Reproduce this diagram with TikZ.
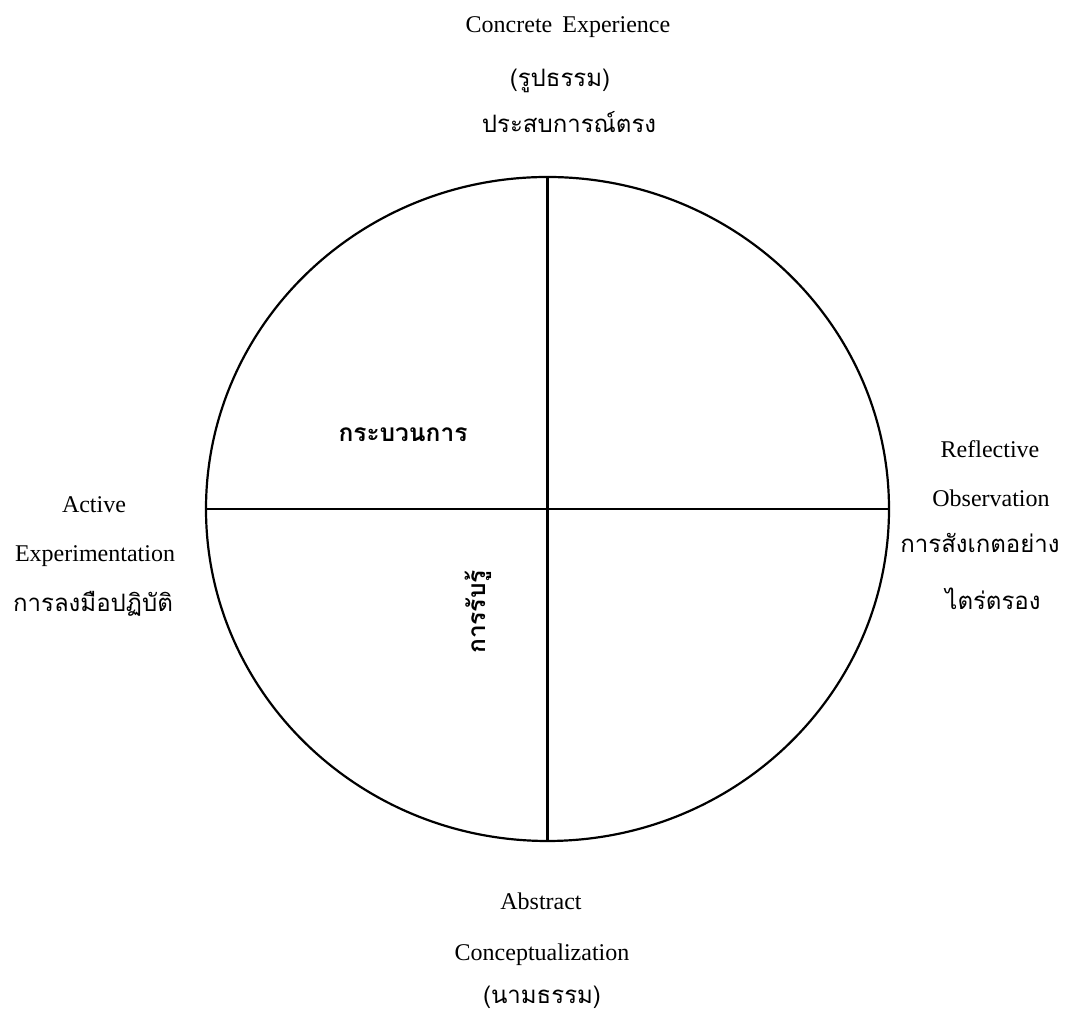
\documentclass[tikz,border=0pt]{standalone}
\usepackage{fontspec}
\setmainfont{Liberation Serif}
\newfontfamily\thaifont[Script=Thai]{Loma}
\usepackage{tikz}
\usetikzlibrary{shapes.geometric}

\begin{document}
\begin{tikzpicture} [x=1pt, y=1pt,
    lbl/.style={font=\fontsize{24}{28}\selectfont, anchor=base, inner sep=0pt},
    th/.style={lbl, font=\thaifont\fontsize{24}{28}\selectfont},
    thb/.style={th, font=\thaifont\bfseries\fontsize{24.5}{28}\selectfont, anchor=center},
    rim/.style={draw, ellipse, line width=2.2pt, inner sep=0pt}
  ]
  \useasboundingbox (0,0) rectangle (1072,1014);
  \node[rim, minimum width=683pt, minimum height=664pt] (wheel) at (547.5,505) {};
  \draw[line width=2.2pt] (wheel.north) -- (wheel.south);
  \draw[line width=2.2pt] (wheel.west) -- (wheel.east);

  % top
  \node[lbl] (ce1) at (568,981) {Concrete\, Experience};
  \node[th]  (ce2) at (560,927) {(รูปธรรม)};
  \node[th]  (ce3) at (569,881) {ประสบการณ์ตรง};
  % right
  \node[lbl] (ro1) at (990,556) {Reflective};
  \node[lbl] (ro2) at (991,507) {Observation};
  \node[th]  (ro3) at (980,461) {การสังเกตอย่าง};
  \node[th]  (ro4) at (993,404) {ไตร่ตรอง};
  % left
  \node[lbl] (ae1) at (94,501) {Active};
  \node[lbl] (ae2) at (95,452) {Experimentation};
  \node[th]  (ae3) at (93,402) {การลงมือปฏิบัติ};
  % bottom
  \node[lbl] (ac1) at (541,104) {Abstract};
  \node[lbl] (ac2) at (542,53) {Conceptualization};
  \node[th]  (ac3) at (542,10) {(นามธรรม)};

  \node[thb] (proc) at (403,579) {กระบวนการ};
  \node[thb, rotate=90] (perc) at (478,402) {การรับรู้};
\end{tikzpicture}
\end{document}
